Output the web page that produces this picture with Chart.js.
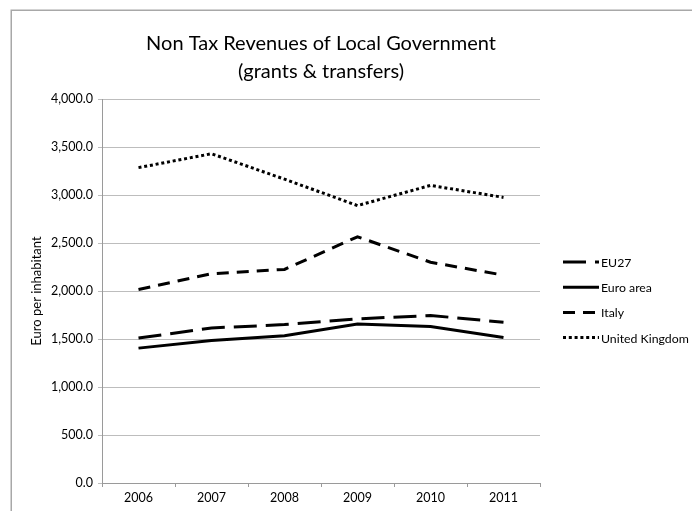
<!DOCTYPE html>
<html>
<head>
<meta charset="utf-8">
<script src="https://cdn.jsdelivr.net/npm/chart.js@4/dist/chart.umd.min.js"></script>
<style>
  html, body { margin: 0; padding: 0; background: #fff; }
  #wrap { width: 692px; height: 511px; }
</style>
</head>
<body>
<div id="wrap"><canvas id="c" width="692" height="511"></canvas></div>
<script>
// Years on the category axis
const years = ['2006', '2007', '2008', '2009', '2010', '2011'];

// Non tax revenues (grants & transfers), euro per inhabitant
const eu27 = [1510, 1615, 1650, 1710, 1745, 1675];
const euroArea = [1405, 1485, 1535, 1655, 1630, 1515];
const italy = [2015, 2180, 2225, 2565, 2300, 2165];
const unitedKingdom = [3285, 3430, 3165, 2890, 3100, 2975];

const seriesNames = ['EU27', 'Euro area', 'Italy', 'United Kingdom'];

const FONT = 'Lato, "Open Sans", sans-serif';

// Thin grey frame around the whole chart
const framePlugin = {
  id: 'frame',
  beforeDraw(chart) {
    const ctx = chart.ctx;
    ctx.save();
    ctx.fillStyle = '#fff';
    ctx.fillRect(0, 0, chart.width, chart.height);
    ctx.strokeStyle = '#a8a8a8';
    ctx.lineWidth = 1.5;
    ctx.strokeRect(11.25, 10.25, chart.width + 20, chart.height + 20);
    ctx.restore();
  }
};

// Legend drawn as line samples using each dataset's own dash pattern
const lineLegend = {
  id: 'lineLegend',
  afterDraw(chart) {
    const ctx = chart.ctx;
    const x0 = 563, x1 = 599, top = 262, step = 25.2;
    ctx.save();
    chart.data.datasets.forEach((ds, i) => {
      const y = top + i * step;
      ctx.beginPath();
      ctx.setLineDash(ds.borderDash || []);
      ctx.lineWidth = ds.borderWidth;
      ctx.strokeStyle = ds.borderColor;
      ctx.lineCap = 'butt';
      ctx.moveTo(x0, y);
      ctx.lineTo(x1, y);
      ctx.stroke();
      ctx.setLineDash([]);
      ctx.fillStyle = '#000';
      ctx.font = '12.3px ' + FONT;
      ctx.textBaseline = 'middle';
      ctx.textAlign = 'left';
      ctx.fillText(ds.label, x1 + 2, y + 1);
    });
    ctx.restore();
  }
};

const common = { borderColor: '#000', borderWidth: 3, pointRadius: 0, tension: 0, fill: false };

new Chart(document.getElementById('c'), {
  type: 'line',
  data: {
    labels: years,
    datasets: [
      Object.assign({ label: seriesNames[0], data: eu27, borderDash: [23, 9] }, common),
      Object.assign({ label: seriesNames[1], data: euroArea, borderDash: [] }, common),
      Object.assign({ label: seriesNames[2], data: italy, borderDash: [12, 8] }, common),
      Object.assign({ label: seriesNames[3], data: unitedKingdom, borderDash: [3, 2.8] }, common)
    ]
  },
  plugins: [framePlugin, lineLegend],
  options: {
    responsive: false,
    animation: false,
    devicePixelRatio: 1,
    layout: { padding: { left: 12, top: 0, right: 152, bottom: 0 } },
    plugins: {
      legend: { display: false },
      tooltip: { enabled: false },
      title: {
        display: true,
        fullSize: false,
        text: ['Non Tax Revenues of Local Government', '(grants & transfers)'],
        color: '#000',
        font: { family: FONT, size: 20, weight: 'normal', lineHeight: '28px' },
        padding: { top: 30, bottom: 13 }
      }
    },
    scales: {
      x: {
        offset: true,
        grid: { offset: true, drawOnChartArea: false, drawTicks: true, tickLength: 4, color: '#9a9a9a' },
        border: { display: true, color: '#9a9a9a', width: 1 },
        ticks: { color: '#000', font: { family: FONT, size: 12.5 }, padding: 3, maxRotation: 0 },
        afterFit(scale) { scale.height = 28; }
      },
      y: {
        min: 0,
        max: 4000,
        grid: { color: '#bdbdbd', tickLength: 4, lineWidth: 1 },
        border: { display: true, color: '#9a9a9a', width: 1 },
        ticks: {
          stepSize: 500,
          color: '#000',
          padding: 5,
          font: { family: FONT, size: 12.5 },
          callback: (v) => Number(v).toLocaleString('en-US', { minimumFractionDigits: 1, maximumFractionDigits: 1 })
        },
        title: {
          display: true,
          text: 'Euro per inhabitant',
          color: '#000',
          font: { family: FONT, size: 13, weight: 'normal' },
          padding: { top: 17, bottom: 0 }
        },
        afterFit(scale) { scale.width = 90; }
      }
    }
  }
});
</script>
</body>
</html>
